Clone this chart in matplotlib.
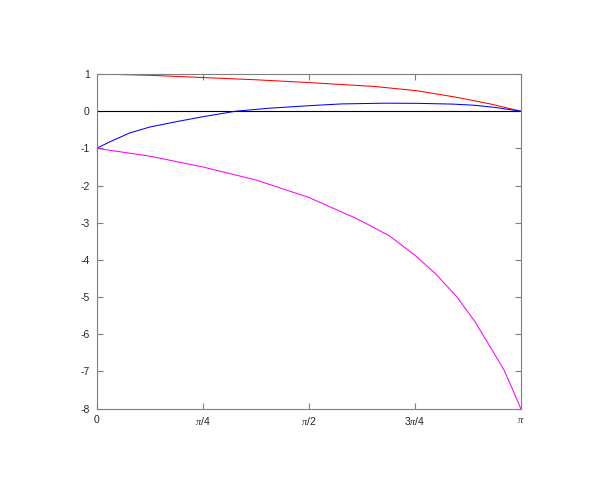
import numpy as np
import matplotlib
matplotlib.use("Agg")
import matplotlib.pyplot as plt

plt.rcParams["font.family"] = ["Liberation Sans", "DejaVu Sans"]
plt.rcParams["mathtext.fontset"] = "custom"
plt.rcParams["mathtext.it"] = "Liberation Serif:italic"
plt.rcParams["axes.unicode_minus"] = False

# x positions given as fractions of pi
red_x = [0, 0.125, 0.25, 0.375, 0.5, 0.656, 0.758, 0.852, 0.931, 1.0]
red_y = [1.0, 0.965, 0.905, 0.845, 0.77, 0.664, 0.546, 0.367, 0.188, 0.0]

blue_x = [0, 0.03, 0.077, 0.124, 0.189, 0.25, 0.329, 0.407, 0.505, 0.577,
          0.68, 0.76, 0.84, 0.89, 0.94, 1.0]
blue_y = [-1.0, -0.83, -0.59, -0.43, -0.28, -0.15, 0.0, 0.08, 0.15, 0.195,
          0.215, 0.21, 0.19, 0.16, 0.10, 0.0]

mag_x = [0, 0.125, 0.25, 0.375, 0.5, 0.613, 0.69, 0.75, 0.798, 0.849,
         0.892, 0.928, 0.96, 0.978, 1.0]
mag_y = [-1.0, -1.21, -1.50, -1.85, -2.32, -2.89, -3.35, -3.87, -4.36, -4.99,
         -5.66, -6.34, -6.95, -7.41, -8.0]

xticks = [0, 0.25, 0.5, 0.75, 1.0]
xtick_labels = ["0", r"$\pi$/4", r"$\pi$/2", r"3$\pi$/4", r"$\pi$"]
yticks = list(range(-8, 2))

fig = plt.figure(figsize=(5.98, 4.98), dpi=100)
ax = fig.add_axes([0.1617, 0.1797, 0.709, 0.6717])

ax.plot([0, np.pi], [0, 0], color="black", lw=0.8)
ax.plot(np.array(red_x) * np.pi, red_y, color="#ff0000", lw=0.75)
ax.plot(np.array(blue_x) * np.pi, blue_y, color="#0000ff", lw=0.75)
ax.plot(np.array(mag_x) * np.pi, mag_y, color="#ff00ff", lw=0.75)

ax.set_xlim(0, np.pi)
ax.set_ylim(-8, 1)
ax.set_xticks(np.array(xticks) * np.pi)
ax.set_xticklabels(xtick_labels)
ax.set_yticks(yticks)

for s in ax.spines.values():
    s.set_color("#7f7f7f")
    s.set_linewidth(0.8)
ax.tick_params(direction="in", top=True, right=True, length=4, width=0.8,
               color="#7f7f7f", labelsize=7.5, labelcolor="#262626", pad=5)

fig.savefig("out.png", dpi=100)
